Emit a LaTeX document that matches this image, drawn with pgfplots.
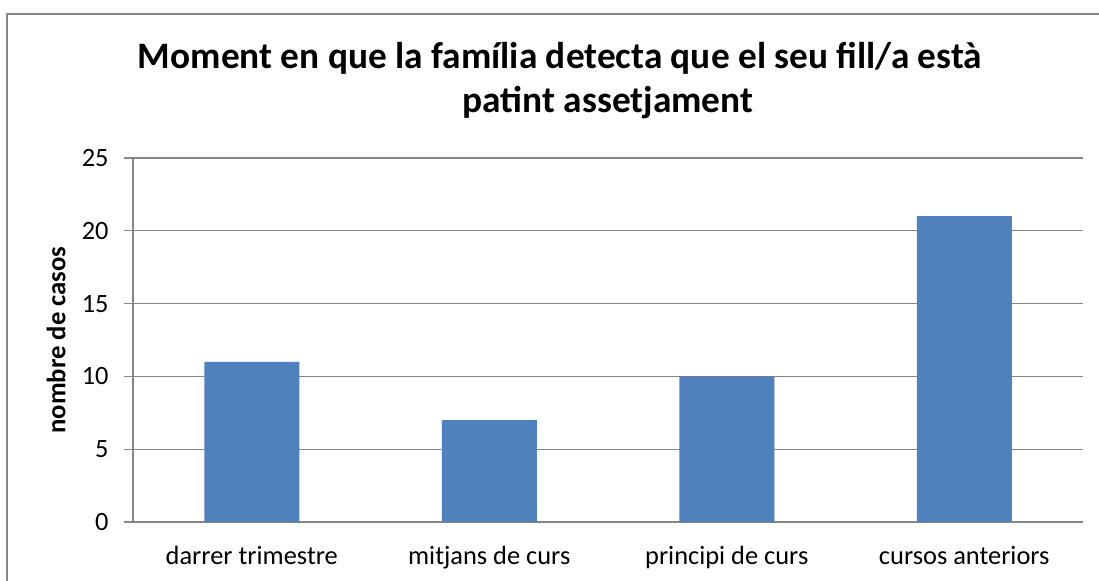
\documentclass[border=0pt]{standalone}
\usepackage{pgfplots}
\pgfplotsset{compat=1.18}
\usepackage{fontspec}
\setmainfont{Carlito}
\definecolor{barblue}{RGB}{79,129,189}
\definecolor{gridgray}{RGB}{134,134,134}
\begin{document}
\begin{tikzpicture}[x=0.75pt,y=0.75pt]
\useasboundingbox (0,0) rectangle (1099,581);
\fill[white] (0,0) rectangle (1099,581);
\draw[gridgray,line width=1.5pt] (7,0) -- (7,567) -- (1099,567);
\node[anchor=base,font=\fontsize{28pt}{33pt}\selectfont\bfseries] at (560,512) {Moment en que la família detecta que el seu fill/a està};
\node[anchor=base,font=\fontsize{28pt}{33pt}\selectfont\bfseries] at (608,468) {patint assetjament};
\begin{axis}[
  at={(99.75pt,44.25pt)}, anchor=south west,
  scale only axis, width=712.5pt, height=273pt,
  xmin=-0.5, xmax=3.5, ymin=0, ymax=25,
  ytick={0,5,10,15,20,25},
  xtick={0,1,2,3},
  xticklabels={darrer trimestre, mitjans de curs, principi de curs, cursos anteriors},
  axis x line=bottom, axis y line=left,
  axis line style={-, gridgray, line width=1pt},
  ymajorgrids, grid style={gridgray, line width=1pt},
  tick align=outside, major tick length=6.75pt,
  ytick style={gridgray, line width=1pt},
  xtick style={draw=none},
  tick label style={font=\fontsize{19.8pt}{22pt}\selectfont},
  /pgf/number format/assume math mode=true,
  yticklabel style={xshift=-8pt},
  xticklabel style={yshift=-8pt},
  ylabel={nombre de casos},
  every axis y label/.style={at={(rel axis cs:0,0.5)}, xshift=-57.75pt, rotate=90, anchor=center, font=\fontsize{20pt}{22pt}\selectfont\bfseries},
  clip=false,
]
\addplot[ybar, bar width=71.25pt, fill=barblue, draw=none] coordinates {(0,11) (1,7) (2,10) (3,21)};
\end{axis}
\end{tikzpicture}
\end{document}
